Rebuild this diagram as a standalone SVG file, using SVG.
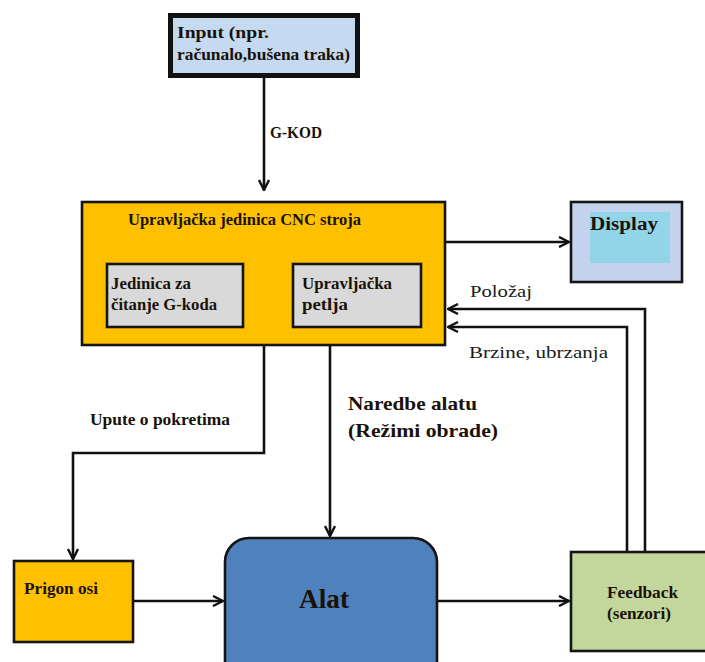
<svg xmlns="http://www.w3.org/2000/svg" width="705" height="662" viewBox="0 0 705 662">
<defs>
<style>
.b{font-family:"Liberation Serif","DejaVu Serif",serif;font-weight:bold;fill:#1a1208}
.r{font-family:"Liberation Serif","DejaVu Serif",serif;fill:#1a1a1a}
.c{fill:none;stroke:#111;stroke-width:2.6}
.box{stroke:#151515;stroke-width:2.6}
</style>
<marker id="ah" viewBox="0 0 12 12" refX="11" refY="6" markerWidth="12" markerHeight="12" markerUnits="userSpaceOnUse" orient="auto">
<path d="M1,1 L11,6 L1,11" fill="none" stroke="#111" stroke-width="2.4"/>
</marker>
</defs>
<rect width="705" height="662" fill="#ffffff"/>

<g id="connectors">
<path class="c" d="M264,78 V190" marker-end="url(#ah)"/>
<path class="c" d="M445,242 H569" marker-end="url(#ah)"/>
<path class="c" d="M645,552 V309 H448" marker-end="url(#ah)"/>
<path class="c" d="M627,552 V327 H448" marker-end="url(#ah)"/>
<path class="c" d="M264,345 V453 H73 V559" marker-end="url(#ah)"/>
<path class="c" d="M330,345 V536" marker-end="url(#ah)"/>
<path class="c" d="M133,601 H223" marker-end="url(#ah)"/>
<path class="c" d="M437,601 H569" marker-end="url(#ah)"/>
<text class="b" x="270" y="138" font-size="16" textLength="52" lengthAdjust="spacingAndGlyphs">G-KOD</text>
<text class="r" x="470" y="297" font-size="17" textLength="62" lengthAdjust="spacingAndGlyphs">Položaj</text>
<text class="r" x="469" y="358" font-size="17" textLength="139" lengthAdjust="spacingAndGlyphs">Brzine, ubrzanja</text>
<text class="b" x="90" y="425" font-size="16.5" textLength="140" lengthAdjust="spacingAndGlyphs">Upute o pokretima</text>
<text class="b" x="348" y="410" font-size="19" textLength="129" lengthAdjust="spacingAndGlyphs">Naredbe alatu</text>
<text class="b" x="348" y="437" font-size="19" textLength="150" lengthAdjust="spacingAndGlyphs">(Režimi obrade)</text>
</g>

<g id="input">
<rect x="170.5" y="15.5" width="187" height="60" fill="#c5d9f1" stroke="#111" stroke-width="5"/>
<text class="b" x="177" y="38" font-size="17" textLength="92" lengthAdjust="spacingAndGlyphs">Input (npr.</text>
<text class="b" x="177" y="60" font-size="17" textLength="173" lengthAdjust="spacingAndGlyphs">računalo,bušena traka)</text>
</g>

<g id="cnc">
<rect class="box" x="82" y="202" width="363" height="143" fill="#ffc000"/>
<text class="b" x="128" y="225" font-size="16.5" textLength="233" lengthAdjust="spacingAndGlyphs" fill="#2e1f0a">Upravljačka jedinica CNC stroja</text>
</g>

<g id="citanje">
<rect class="box" x="107" y="264" width="136" height="63" fill="#d9d9d9"/>
<text class="b" x="111" y="289" font-size="16.5" textLength="80" lengthAdjust="spacingAndGlyphs">Jedinica za</text>
<text class="b" x="111" y="310" font-size="16.5" textLength="106" lengthAdjust="spacingAndGlyphs">čitanje G-koda</text>
</g>

<g id="petlja">
<rect class="box" x="293" y="264" width="128" height="63" fill="#d9d9d9"/>
<text class="b" x="302" y="289" font-size="16.5" textLength="90" lengthAdjust="spacingAndGlyphs">Upravljačka</text>
<text class="b" x="302" y="310" font-size="16.5" textLength="46" lengthAdjust="spacingAndGlyphs">petlja</text>
</g>

<g id="display">
<rect class="box" x="571" y="202" width="111" height="80" fill="#c6d3ee"/>
<rect x="590" y="212" width="80" height="51" fill="#93d5e8"/>
<text class="b" x="590" y="230" font-size="18" textLength="68" lengthAdjust="spacingAndGlyphs" fill="#1c2640">Display</text>
</g>

<g id="prigon">
<rect class="box" x="14" y="561" width="119" height="81" fill="#ffc000"/>
<text class="b" x="24" y="594" font-size="16.5" textLength="74" lengthAdjust="spacingAndGlyphs" fill="#2e1f0a">Prigon osi</text>
</g>

<g id="alat">
<rect class="box" x="225" y="538" width="212" height="150" rx="24" ry="24" fill="#4f81bd"/>
<text class="b" x="324" y="608" font-size="27" text-anchor="middle" textLength="50" lengthAdjust="spacingAndGlyphs" fill="#0f1d3a">Alat</text>
</g>

<g id="feedback">
<rect class="box" x="571" y="552" width="150" height="99" fill="#c3d69b"/>
<text class="b" x="607" y="598" font-size="16.5" textLength="71" lengthAdjust="spacingAndGlyphs">Feedback</text>
<text class="b" x="607" y="619" font-size="16.5" textLength="64" lengthAdjust="spacingAndGlyphs">(senzori)</text>
</g>
</svg>
